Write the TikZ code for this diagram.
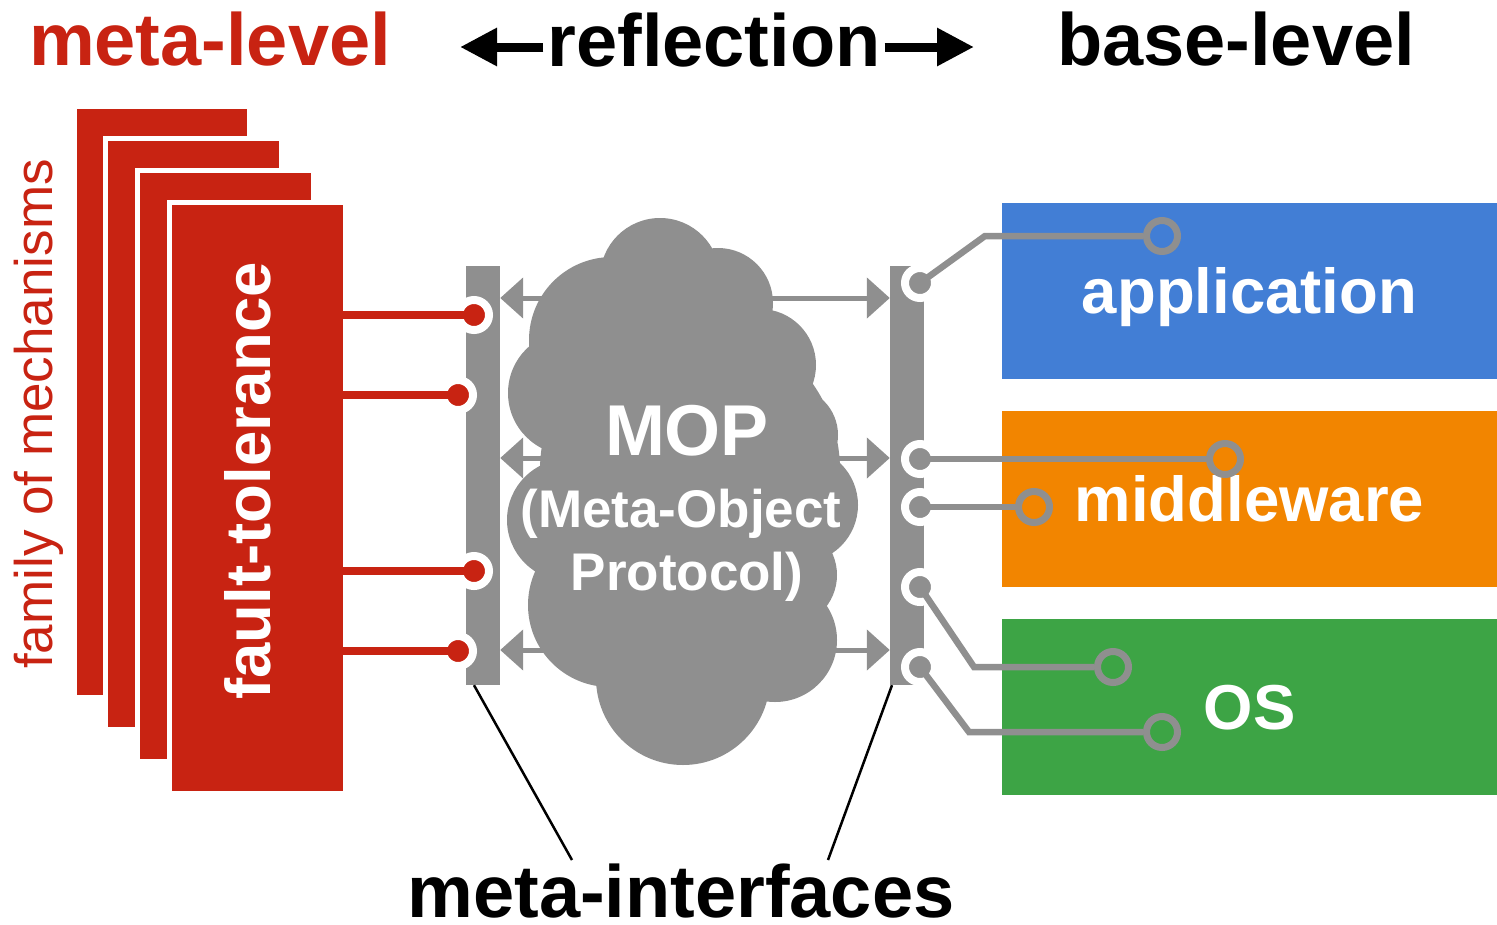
\documentclass[tikz,border=0pt]{standalone}
\usepackage{fontspec}
\setmainfont{Liberation Sans}
\usetikzlibrary{arrows.meta}
\definecolor{ftred}{RGB}{200,35,18}
\definecolor{appblue}{RGB}{66,126,213}
\definecolor{mworange}{RGB}{242,133,0}
\definecolor{osgreen}{RGB}{61,164,69}
\definecolor{mopgrey}{RGB}{143,143,143}
\tikzset{
  toptitle/.style={anchor=base,inner sep=0pt,font=\bfseries\fontsize{74}{80}\selectfont},
  titlearrow/.style={line width=9pt,-{Triangle[length=37pt,width=36pt]}},
  redcard/.style={fill=ftred,draw=white,line width=5pt},
  ifbar/.style={rectangle,fill=mopgrey,inner sep=0pt,minimum width=34pt,minimum height=419pt},
  mopline/.style={mopgrey,line width=5pt,{Triangle[length=23pt,width=40pt]}-{Triangle[length=23pt,width=40pt]}},
  moptext/.style={anchor=base,inner sep=0pt,text=white,font=\bfseries\fontsize{53}{60}\selectfont},
  reddot/.style={circle,fill=ftred,draw=white,line width=8pt,minimum size=30pt,inner sep=0pt},
  greydot/.style={reddot,fill=mopgrey},
  endring/.style={circle,draw=mopgrey,line width=7pt,minimum size=31pt,inner sep=0pt},
  redwire/.style={ftred,line width=8pt},
  greywire/.style={mopgrey,line width=6.5pt},
  basebox/.style={rectangle,inner sep=0pt,minimum width=495pt,minimum height=176pt,
    text height=45pt,text depth=0pt,text=white,font=\bfseries\fontsize{63.5}{70}\selectfont}
}
\begin{document}
\begin{tikzpicture}[x=1pt,y=-1pt]
\useasboundingbox (0,0) rectangle (1497,924);
\node[toptitle,text=ftred] (meta) at (210,65) {meta-level};
\node[toptitle] (refl) at (714,66) {reflection};
\node[toptitle] (base) at (1236,65) {base-level};
\coordinate (rl) at (460,47);
\coordinate (rr) at (974,47);
\draw[titlearrow] ([xshift=-4pt]refl.west |- rl) -- (rl);
\draw[titlearrow] ([xshift=4pt]refl.east |- rr) -- (rr);
\filldraw[redcard] (74.5,106.5) rectangle (249.5,697.5);
\filldraw[redcard] (105.5,138.5) rectangle (281.5,729.5);
\filldraw[redcard] (137.5,170.5) rectangle (313.5,761.5);
\node[redcard,rectangle,outer sep=0pt,minimum width=176pt,minimum height=591pt] (ftbox) at (257.5,498) {};
\node[ifbar] (lbar) at (483,475.5) {};
\node[ifbar] (rbar) at (907,475.5) {};
\foreach \y in {298,458,650}
  \draw[mopline] (lbar.east |- 0,\y) -- (rbar.west |- 0,\y);
\fill[mopgrey] (660,278) circle (60pt) (718,303) circle (55pt) (760,365) circle (56pt)
  (790,435) circle (48pt) (800,505) circle (58pt) (785,575) circle (52pt)
  (775,640) circle (62pt) (683,678) circle (87pt) (610,605) circle (82pt)
  (568,520) circle (61pt) (570,393) circle (62pt) (612,340) circle (83pt)
  (690,470) circle (150pt);
\node[moptext,font=\bfseries\fontsize{72}{80}\selectfont] (mop) at (687,455) {MOP};
\node[moptext] (mopa) at (681,527) {(Meta-Object};
\node[moptext] (mopb) at (687,590) {Protocol)};
\node[reddot] (d1) at (474,315) {};
\node[reddot] (d2) at (458,395) {};
\node[reddot] (d3) at (474,571) {};
\node[reddot] (d4) at (458,651) {};
\foreach \d in {d1,d2,d3,d4}
  \draw[redwire] (ftbox.center |- \d) -- (\d.center);
\node[rotate=90,anchor=base,inner sep=0pt,text=white,font=\bfseries\fontsize{63.5}{70}\selectfont] (ft) at (270,481) {fault-tolerance};
\node[rotate=90,anchor=base,inner sep=0pt,text=ftred,font=\fontsize{53}{60}\selectfont] (fam) at (52,414) {family of mechanisms};
\node[basebox,fill=appblue] (app) at (1249.5,291) {application};
\node[basebox,fill=mworange] (mw) at (1249.5,498.5) {middleware};
\node[basebox,fill=osgreen] (os) at (1249.5,707) {OS};
\node[greydot] (g1) at (920,283) {};
\node[greydot] (g2) at (920,459) {};
\node[greydot] (g3) at (920,507) {};
\node[greydot] (g4) at (920,587) {};
\node[greydot] (g5) at (920,667) {};
\node[endring] (e1) at (1162,236) {};
\node[endring] (e2) at (1225,459) {};
\node[endring] (e3) at (1034,507) {};
\node[endring] (e4) at (1113,667) {};
\node[endring] (e5) at (1162,732) {};
\draw[greywire] (g1.center) -- (985,236) -- (e1);
\draw[greywire] (g2.center) -- (e2);
\draw[greywire] (g3.center) -- (e3);
\draw[greywire] (g4.center) -- (974,667) -- (e4);
\draw[greywire] (g5.center) -- (969,732) -- (e5);
\node[toptitle] (mi) at (681,917) {meta-interfaces};
\coordinate (mil) at (572,860);
\coordinate (mir) at (828,860);
\draw[line width=2.5pt] ([xshift=-9pt]lbar.south) -- (mil);
\draw[line width=2.5pt] ([xshift=-15pt]rbar.south) -- (mir);
\end{tikzpicture}
\end{document}
